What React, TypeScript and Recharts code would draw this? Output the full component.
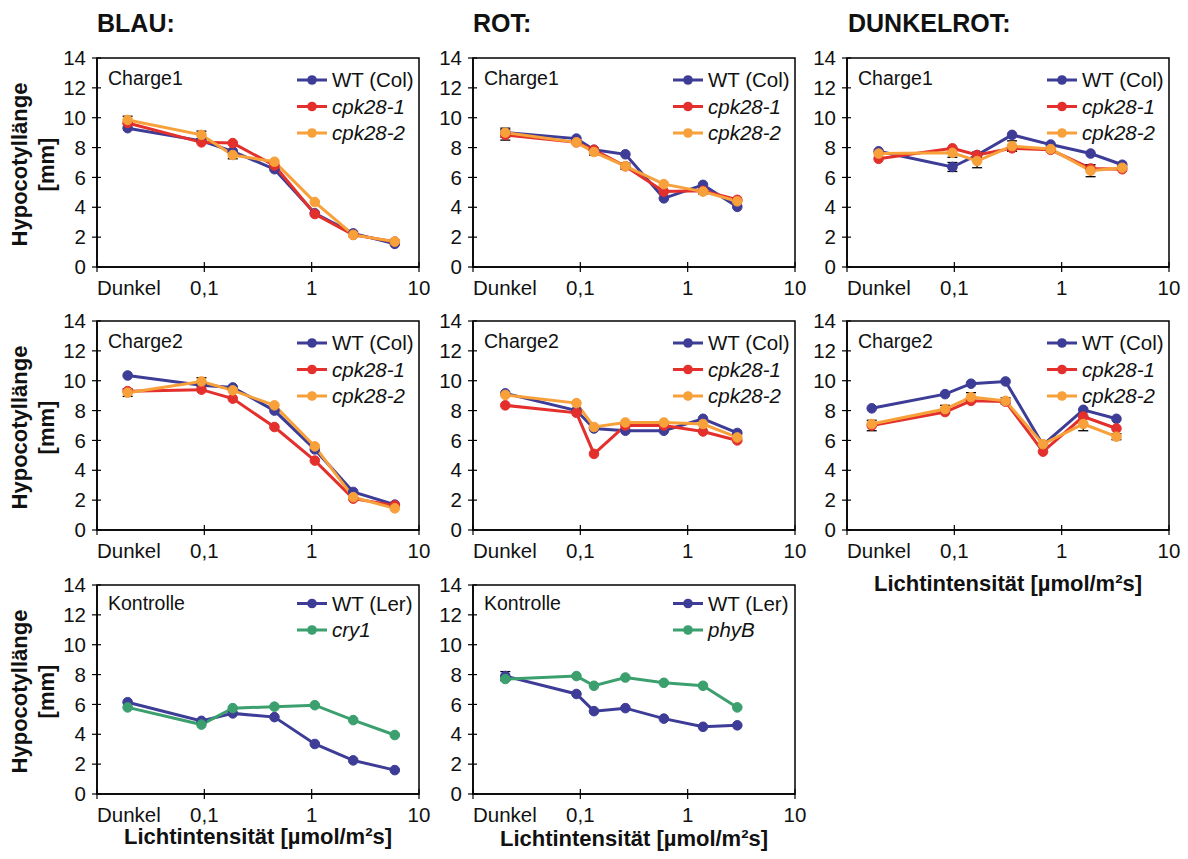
import React from "react";
import { LineChart, Line, XAxis, YAxis, ReferenceArea, ErrorBar } from "recharts";

const FONT = '"Liberation Sans", Arial, Helvetica, sans-serif';

// light intensities (µmol/m²s); the first point of each row is the dark control
const BLAU_X = [0.0193, 0.094, 0.184, 0.45, 1.07, 2.44, 5.95];
const ROT_X = [0.02, 0.092, 0.134, 0.263, 0.6, 1.39, 2.9];
const DUNKELROT1_X = [0.0197, 0.096, 0.163, 0.345, 0.79, 1.86, 3.67];
const DUNKELROT2_X = [0.017, 0.082, 0.143, 0.3, 0.67, 1.59, 3.24];

const X_TICKS = [0.01, 0.1, 1, 10];
const X_TICK_LABELS: Record<string, string> = { "0.01": "Dunkel", "0.1": "0,1", "1": "1", "10": "10" };
const Y_TICKS = [0, 2, 4, 6, 8, 10, 12, 14];

// hypocotyl length [mm] – Charge1
const BLAU1_WT = [9.3, 8.45, 7.75, 6.55, 3.6, 2.25, 1.55];
const BLAU1_C1 = [9.65, 8.35, 8.3, 6.8, 3.55, 2.15, 1.7];
const BLAU1_C2 = [9.85, 8.85, 7.5, 7.05, 4.35, 2.15, 1.7];
const ROT1_WT = [9.0, 8.6, 7.85, 7.55, 4.6, 5.5, 4.03];
const ROT1_C1 = [8.85, 8.35, 7.85, 6.75, 5.05, 5.1, 4.5];
const ROT1_C2 = [9.0, 8.35, 7.7, 6.75, 5.55, 5.05, 4.4];
const DR1_WT = [7.75, 6.7, 7.5, 8.85, 8.2, 7.6, 6.85];
const DR1_C1 = [7.25, 7.95, 7.5, 7.95, 7.85, 6.6, 6.55];
const DR1_C2 = [7.6, 7.65, 7.1, 8.1, 7.9, 6.45, 6.65];

// Charge2
const BLAU2_WT = [10.35, 9.7, 9.55, 8.0, 5.4, 2.55, 1.7];
const BLAU2_C1 = [9.3, 9.4, 8.8, 6.9, 4.65, 2.1, 1.65];
const BLAU2_C2 = [9.2, 9.95, 9.35, 8.35, 5.6, 2.2, 1.45];
const ROT2_WT = [9.15, 8.0, 6.8, 6.65, 6.65, 7.45, 6.5];
const ROT2_C1 = [8.35, 7.85, 5.1, 7.0, 7.0, 6.6, 6.0];
const ROT2_C2 = [9.05, 8.5, 6.9, 7.2, 7.2, 7.1, 6.2];
const DR2_WT = [8.15, 9.1, 9.8, 9.95, 5.7, 8.05, 7.45];
const DR2_C1 = [7.0, 7.9, 8.65, 8.6, 5.25, 7.6, 6.8];
const DR2_C2 = [7.1, 8.1, 8.9, 8.65, 5.75, 7.1, 6.25];

// Kontrolle
const BLAU3_WT = [6.15, 4.9, 5.4, 5.15, 3.35, 2.25, 1.6];
const BLAU3_CRY1 = [5.8, 4.65, 5.75, 5.85, 5.95, 4.95, 3.95];
const ROT3_WT = [7.9, 6.7, 5.55, 5.75, 5.05, 4.5, 4.6];
const ROT3_PHYB = [7.7, 7.9, 7.25, 7.8, 7.45, 7.25, 5.8];

// standard errors, only where they show past the markers
type Err = (number | null)[];
const NO_ERR: Err = [null, null, null, null, null, null, null];
const ERR_BLAU1_C2: Err = [0.25, 0.25, 0.25, null, null, null, null];
const ERR_ROT1_WT: Err = [0.3, null, null, null, null, null, null];
const ERR_ROT1_C1: Err = [0.35, null, null, null, null, null, null];
const ERR_ROT1_C2: Err = [null, null, 0.2, 0.2, null, 0.15, null];
const ERR_DR1_WT: Err = [null, 0.3, 0.2, null, null, null, null];
const ERR_DR1_C2: Err = [null, 0.3, 0.45, 0.35, null, 0.4, null];
const ERR_BLAU2_C2: Err = [0.25, 0.25, null, null, null, null, null];
const ERR_DR2_C1: Err = [0.35, null, null, null, null, null, null];
const ERR_DR2_C2: Err = [null, 0.25, 0.3, 0.2, null, 0.45, 0.2];
const ERR_ROT3_WT: Err = [0.3, null, null, null, null, null, null];

const C_WT = "#3d3c96";
const C_C1 = "#e3302c";
const C_C2 = "#f8a03a";
const C_MUT = "#3b9f6e";

type Series = { name: string; color: string; values: number[]; errors: Err; italic?: boolean };

// plot box geometry inside each chart
const PLOT_L = 60;
const PLOT_T = 20;
const PLOT_W = 322;
const PLOT_H = 209;
const PLOT_R = 20;
const CHART_W = PLOT_L + PLOT_W + PLOT_R;
const CHART_H = PLOT_T + PLOT_H + 40;

const XTick = (props: any) => {
  const { x, payload } = props;
  const label = X_TICK_LABELS[String(payload.value)] ?? String(payload.value);
  const y0 = PLOT_T + PLOT_H;
  const first = payload.value === 0.01;
  return (
    <g>
      <line x1={x} x2={x} y1={y0 - 5} y2={y0 + 5} stroke="#000" strokeWidth={1.2} />
      <text x={x} y={y0 + 28} textAnchor={first ? "start" : "middle"} fontSize={20.5} fontFamily={FONT} fill="#111">
        {label}
      </text>
    </g>
  );
};

const YTick = (props: any) => {
  const { y, payload } = props;
  return (
    <g>
      <line x1={PLOT_L - 5} x2={PLOT_L + 4} y1={y} y2={y} stroke="#000" strokeWidth={1.2} />
      <text x={PLOT_L - 11} y={y} dy="0.35em" textAnchor="end" fontSize={20.5} fontFamily={FONT} fill="#111">
        {payload.value}
      </text>
    </g>
  );
};

function Panel({
  left,
  top,
  label,
  xs,
  series,
  legendTop = 22,
  labelTop = 20,
}: {
  left: number;
  top: number;
  label: string;
  xs: number[];
  series: Series[];
  legendTop?: number;
  labelTop?: number;
}) {
  const data = xs.map((x, i) => {
    const row: Record<string, number | null> = { x };
    series.forEach((s, k) => {
      row["s" + k] = s.values[i];
      row["e" + k] = s.errors[i];
    });
    return row;
  });

  return (
    <div style={{ position: "absolute", left: left - PLOT_L, top: top - PLOT_T, width: CHART_W, height: CHART_H }}>
      <LineChart width={CHART_W} height={CHART_H} data={data} margin={{ top: PLOT_T, right: PLOT_R, bottom: 0, left: 0 }}>
        <ReferenceArea
          x1={0.01}
          x2={10}
          y1={0}
          y2={14}
          fill="none"
          stroke="#000"
          strokeWidth={1.5}
          ifOverflow="visible"
        />
        <XAxis
          dataKey="x"
          type="number"
          scale="log"
          domain={[0.01, 10]}
          ticks={X_TICKS}
          interval={0}
          allowDataOverflow
          axisLine={{ stroke: "#000", strokeWidth: 1.5 }}
          tickLine={false}
          tickSize={0}
          tickMargin={0}
          height={40}
          tick={XTick}
        />
        <YAxis
          type="number"
          domain={[0, 14]}
          ticks={Y_TICKS}
          interval={0}
          width={PLOT_L}
          axisLine={{ stroke: "#000", strokeWidth: 1.5 }}
          tickLine={false}
          tickSize={0}
          tickMargin={0}
          tick={YTick}
        />
        {series.map((s, k) => (
          <Line
            key={s.name}
            dataKey={"s" + k}
            stroke={s.color}
            strokeWidth={3}
            dot={{ r: 4.8, fill: s.color, stroke: s.color, strokeWidth: 1 }}
            isAnimationActive={false}
          >
            <ErrorBar dataKey={"e" + k} width={5} stroke="#000" strokeWidth={1.3} direction="y" />
          </Line>
        ))}
      </LineChart>

      {/* panel label + legend */}
      <svg
        width={CHART_W}
        height={CHART_H}
        style={{ position: "absolute", left: 0, top: 0, pointerEvents: "none" }}
      >
        <text x={PLOT_L + 11} y={PLOT_T + labelTop} dy="0.35em" fontSize={19.5} fontFamily={FONT} fill="#111">
          {label}
        </text>
        {series.map((s, k) => {
          const cy = PLOT_T + legendTop + k * 26.5;
          return (
            <g key={s.name}>
              <line x1={PLOT_L + 200} x2={PLOT_L + 230} y1={cy} y2={cy} stroke={s.color} strokeWidth={3} />
              <circle cx={PLOT_L + 215} cy={cy} r={4.8} fill={s.color} />
              <text
                x={PLOT_L + 235}
                y={cy}
                dy="0.35em"
                fontSize={20.5}
                fontStyle={s.italic ? "italic" : "normal"}
                fontFamily={FONT}
                fill="#111"
              >
                {s.name}
              </text>
            </g>
          );
        })}
      </svg>
    </div>
  );
}

const cpkSeries = (wt: number[], c1: number[], c2: number[], e: Err[] = [NO_ERR, NO_ERR, NO_ERR]): Series[] => [
  { name: "WT (Col)", color: C_WT, values: wt, errors: e[0] },
  { name: "cpk28-1", color: C_C1, values: c1, errors: e[1], italic: true },
  { name: "cpk28-2", color: C_C2, values: c2, errors: e[2], italic: true },
];

const COL_L = [97, 473, 847];
const ROW_T = [58, 321, 585];

function YTitle({ cy }: { cy: number }) {
  return (
    <g fontFamily={FONT} fontWeight="bold" fontSize={22} fill="#111" textAnchor="middle">
      <text transform={`translate(27,${cy}) rotate(-90)`}>Hypocotyllänge</text>
      <text transform={`translate(54,${cy}) rotate(-90)`}>[mm]</text>
    </g>
  );
}

export default function App() {
  const xTitle = "Lichtintensität [µmol/m²s]";
  return (
    <div style={{ position: "absolute", left: 0, top: 0, width: 1188, height: 859, background: "#fff", fontFamily: FONT }}>
      <svg width={1188} height={859} style={{ position: "absolute", left: 0, top: 0 }}>
        <g fontFamily={FONT} fontWeight="bold" fontSize={25} fill="#111">
          <text x={97} y={31.5}>BLAU:</text>
          <text x={473} y={31.5}>ROT:</text>
          <text x={848} y={31.5}>DUNKELROT:</text>
        </g>
        {ROW_T.map((t) => (
          <YTitle key={t} cy={t + PLOT_H / 2 + 2} />
        ))}
        <g fontFamily={FONT} fontWeight="bold" fontSize={22} fill="#111" textAnchor="middle">
          <text x={258} y={844}>{xTitle}</text>
          <text x={634} y={846}>{xTitle}</text>
          <text x={1008} y={591}>{xTitle}</text>
        </g>
      </svg>

      <Panel left={COL_L[0]} top={ROW_T[0]} label="Charge1" xs={BLAU_X}
        series={cpkSeries(BLAU1_WT, BLAU1_C1, BLAU1_C2, [NO_ERR, NO_ERR, ERR_BLAU1_C2])} />
      <Panel left={COL_L[1]} top={ROW_T[0]} label="Charge1" xs={ROT_X}
        series={cpkSeries(ROT1_WT, ROT1_C1, ROT1_C2, [ERR_ROT1_WT, ERR_ROT1_C1, ERR_ROT1_C2])} />
      <Panel left={COL_L[2]} top={ROW_T[0]} label="Charge1" xs={DUNKELROT1_X}
        series={cpkSeries(DR1_WT, DR1_C1, DR1_C2, [ERR_DR1_WT, NO_ERR, ERR_DR1_C2])} />

      <Panel left={COL_L[0]} top={ROW_T[1]} label="Charge2" xs={BLAU_X}
        series={cpkSeries(BLAU2_WT, BLAU2_C1, BLAU2_C2, [NO_ERR, NO_ERR, ERR_BLAU2_C2])} />
      <Panel left={COL_L[1]} top={ROW_T[1]} label="Charge2" xs={ROT_X}
        series={cpkSeries(ROT2_WT, ROT2_C1, ROT2_C2)} />
      <Panel left={COL_L[2]} top={ROW_T[1]} label="Charge2" xs={DUNKELROT2_X}
        series={cpkSeries(DR2_WT, DR2_C1, DR2_C2, [NO_ERR, ERR_DR2_C1, ERR_DR2_C2])} />

      <Panel left={COL_L[0]} top={ROW_T[2]} label="Kontrolle" xs={BLAU_X} legendTop={18.5} labelTop={18}
        series={[
          { name: "WT (Ler)", color: C_WT, values: BLAU3_WT, errors: NO_ERR },
          { name: "cry1", color: C_MUT, values: BLAU3_CRY1, errors: NO_ERR, italic: true },
        ]} />
      <Panel left={COL_L[1]} top={ROW_T[2]} label="Kontrolle" xs={ROT_X} legendTop={18.5} labelTop={18}
        series={[
          { name: "WT (Ler)", color: C_WT, values: ROT3_WT, errors: ERR_ROT3_WT },
          { name: "phyB", color: C_MUT, values: ROT3_PHYB, errors: NO_ERR, italic: true },
        ]} />
    </div>
  );
}
